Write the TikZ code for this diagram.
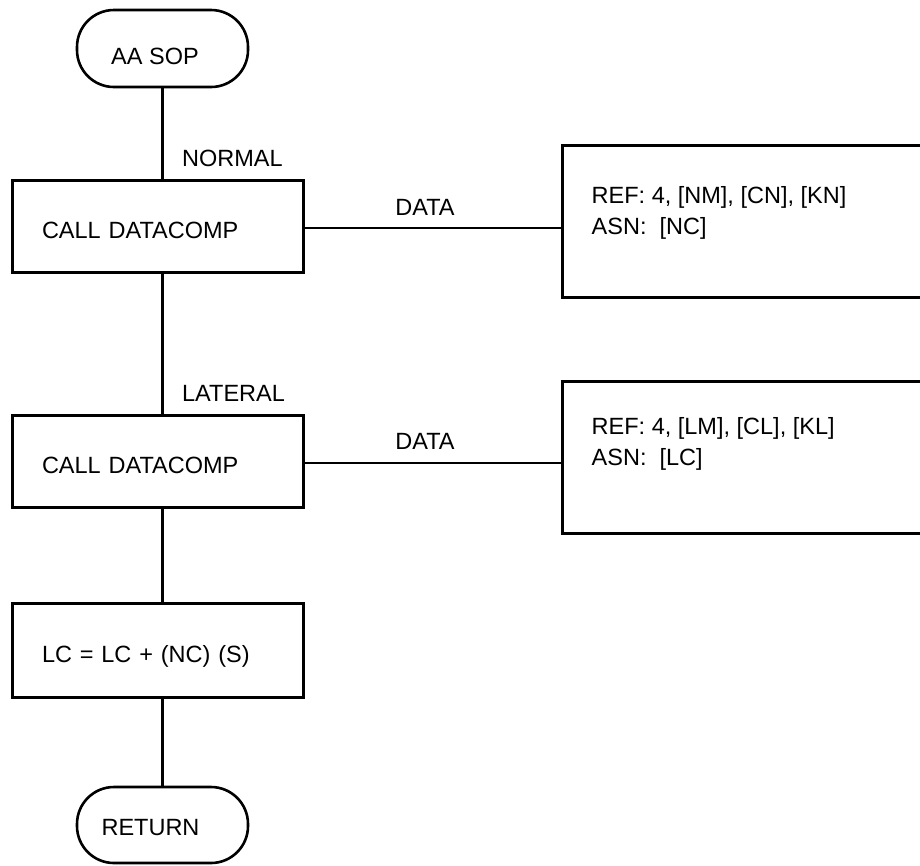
\documentclass[tikz,border=0pt]{standalone}
\usepackage{fontspec}
\setmainfont{Liberation Sans}
\usetikzlibrary{calc}

\begin{document}
\begin{tikzpicture}[x=1pt, y=-1pt,
    every node/.style={font=\fontsize{23.5}{31}\selectfont},
    box/.style={draw, rectangle, line width=3pt, inner xsep=30pt, text width=231pt,
      align=left, minimum height=92pt, text height=25pt, text depth=0pt},
    term/.style={draw, rectangle, line width=2.6pt, rounded corners=37pt,
      minimum width=171pt, minimum height=77pt},
    datbox/.style={draw, rectangle, line width=3pt, minimum width=368pt, minimum height=152pt},
    lbl/.style={inner sep=0pt},
    con/.style={line width=2.3pt}]
  \useasboundingbox (0,0) rectangle (920,865);
  \clip (0,0) rectangle (920,865);
  % flow chart
  \node[term] (sop) at (162.5,48.5) {};
  \node[lbl] (soptxt) at ([xshift=-7.5pt, yshift=-8pt]sop.center) {AA SOP};
  \node[box] (call1) at (157.5,226) {CALL DATACOMP};
  \node[box] (call2) at (157.5,461) {CALL DATACOMP};
  \node[box, minimum height=94pt] (sum) at (157.5,650) {LC = LC + (NC) (S)};
  \node[term, minimum height=76pt] (ret) at (162.5,825) {};
  \node[lbl] (rettxt) at ([xshift=-12pt, yshift=-2.5pt]ret.center) {RETURN};
  % data boxes
  \node[datbox] (ref1) at (746,221) {};
  \node[lbl, align=left, anchor=north west] (ref1txt) at ([xshift=31pt, yshift=-43pt]ref1.north west)
    {REF: 4, [NM], [CN], [KN]\\ASN:\ \ [NC]};
  \node[datbox] (ref2) at (746,457) {};
  \node[lbl, align=left, anchor=north west] (ref2txt) at ([xshift=31pt, yshift=-38pt]ref2.north west)
    {REF: 4, [LM], [CL], [KL]\\ASN:\ \ [LC]};
  % connectors
  \draw[con] (sop.south) -- (call1.north -| sop.south)
    node[lbl, pos=1, anchor=base west, xshift=18.5pt, yshift=12pt] (nrm) {NORMAL};
  \draw[con] (call1.south -| sop.south) -- (call2.north -| sop.south)
    node[lbl, pos=1, anchor=base west, xshift=18.5pt, yshift=12pt] (lat) {LATERAL};
  \draw[con] (call2.south -| sop.south) -- (sum.north -| sop.south);
  \draw[con] (sum.south -| sop.south) -- (ret.north);
  \draw[con] ([yshift=-2pt]call1.east) -- ([yshift=-2pt]call1.east -| ref1.west)
    node[lbl, midway, anchor=base, xshift=-7.5pt, yshift=13pt] (dat1) {DATA};
  \draw[con] ([yshift=-2pt]call2.east) -- ([yshift=-2pt]call2.east -| ref2.west)
    node[lbl, midway, anchor=base, xshift=-7.5pt, yshift=14pt] (dat2) {DATA};
\end{tikzpicture}
\end{document}
